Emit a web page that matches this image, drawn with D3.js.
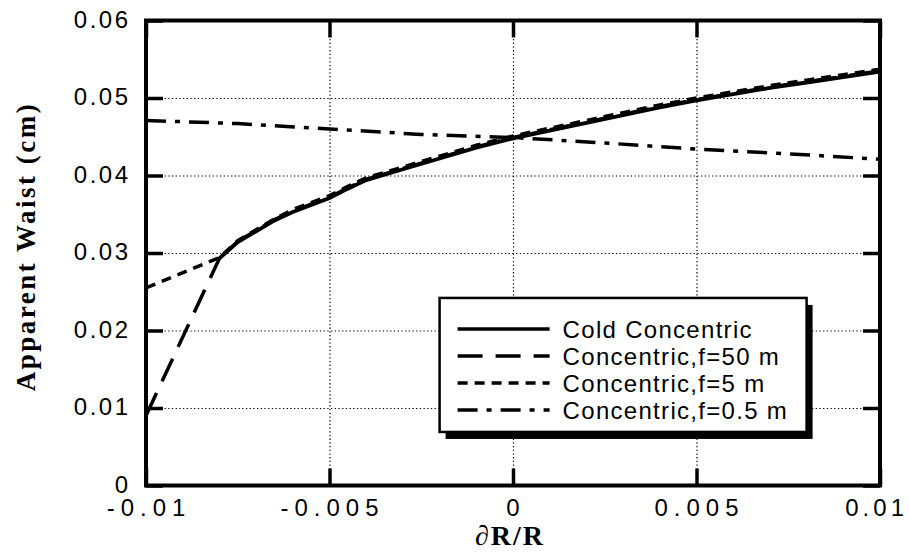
<!DOCTYPE html>
<html>
<head>
<meta charset="utf-8">
<script src="https://cdn.jsdelivr.net/npm/d3@7"></script>
<style>
  body { margin: 0; background: #fff; }
  svg { display: block; }
</style>
</head>
<body>
<div id="graph"></div>
<script>
// data
const xTicks = [-0.01, -0.005, 0, 0.005, 0.01];
const xTickLabels = ["-0.01", "-0.005", "0", "0.005", "0.01"];
const yTicks = [0, 0.01, 0.02, 0.03, 0.04, 0.05, 0.06];
const yTickLabels = ["0", "0.01", "0.02", "0.03", "0.04", "0.05", "0.06"];

const coldX = [-0.008, -0.0075, -0.007, -0.0065, -0.006, -0.0055, -0.005, -0.0045, -0.004, -0.003, -0.002, -0.001, 0, 0.001, 0.002, 0.003, 0.004, 0.005, 0.006, 0.007, 0.008, 0.009, 0.01];
const coldY = [0.0293, 0.0314, 0.0328, 0.0342, 0.0353, 0.0362, 0.0371, 0.0383, 0.0394, 0.0408, 0.0422, 0.0436, 0.0448, 0.0458, 0.0468, 0.0478, 0.0488, 0.0497, 0.0505, 0.0513, 0.0520, 0.0527, 0.0534];

const f50X = [-0.01, -0.008, -0.0075, -0.007, -0.0065, -0.006, -0.0055, -0.005, -0.0045, -0.004, -0.003, -0.002, -0.001, 0, 0.001, 0.002, 0.003, 0.004, 0.005, 0.006, 0.007, 0.008, 0.009, 0.01];
const f50Y = [0.0090, 0.0293, 0.0315, 0.0329, 0.0343, 0.0354, 0.0363, 0.0372, 0.0384, 0.0395, 0.0409, 0.0423, 0.0437, 0.0449, 0.0459, 0.0469, 0.0479, 0.0489, 0.0498, 0.0506, 0.0514, 0.0521, 0.0528, 0.0535];

const f5X = [-0.01, -0.008, -0.0075, -0.007, -0.0065, -0.006, -0.0055, -0.005, -0.0045, -0.004, -0.003, -0.002, -0.001, 0, 0.001, 0.002, 0.003, 0.004, 0.005, 0.006, 0.007, 0.008, 0.009, 0.01];
const f5Y = [0.0255, 0.0294, 0.0316, 0.0330, 0.0344, 0.0356, 0.0365, 0.0374, 0.0386, 0.0397, 0.0411, 0.0425, 0.0439, 0.0451, 0.0461, 0.0471, 0.0481, 0.0491, 0.0500, 0.0508, 0.0516, 0.0523, 0.0530, 0.0537];

const f05X = [-0.01, -0.0075, -0.005, -0.0025, 0, 0.0025, 0.005, 0.0075, 0.01];
const f05Y = [0.0471, 0.0467, 0.0460, 0.0453, 0.0449, 0.0442, 0.0434, 0.0428, 0.0421];

const seriesNames = ["Cold Concentric", "Concentric,f=50 m", "Concentric,f=5 m", "Concentric,f=0.5 m"];

const width = 909, height = 552;
const margin = {top: 20.5, right: 29, bottom: 66.5, left: 146};
const plotW = width - margin.left - margin.right;
const plotH = height - margin.top - margin.bottom;

let svg = d3.select("#graph")
    .append("svg")
    .attr("width", width)
    .attr("height", height)
    .append("g")
    .attr("transform", `translate(${margin.left}, ${margin.top})`);

let x = d3.scaleLinear().domain([-0.01, 0.01]).range([0, plotW]);
let y = d3.scaleLinear().domain([0, 0.06]).range([plotH, 0]);

// dotted grid
let gridY = svg.append("g")
    .call(d3.axisLeft(y).tickValues(yTicks.slice(1, -1)).tickSize(-plotW).tickFormat(""));
let gridX = svg.append("g")
    .call(d3.axisTop(x).tickValues(xTicks.slice(1, -1)).tickSize(-plotH).tickFormat(""));
[gridY, gridX].forEach(g => {
    g.select(".domain").remove();
    g.selectAll("line")
        .attr("stroke", "#000")
        .attr("stroke-width", 1.2)
        .attr("stroke-dasharray", "1.3,2.4");
});

// inside ticks on all four sides
let tickLen = 17;
let yAxis = svg.append("g")
    .call(d3.axisLeft(y).tickValues(yTicks).tickSize(-tickLen).tickPadding(18)
        .tickFormat((d, i) => yTickLabels[i]));
let yAxisR = svg.append("g")
    .attr("transform", `translate(${plotW}, 0)`)
    .call(d3.axisRight(y).tickValues(yTicks).tickSize(-tickLen).tickFormat(""));
let xAxis = svg.append("g")
    .attr("transform", `translate(0, ${plotH})`)
    .call(d3.axisBottom(x).tickValues(xTicks).tickSize(-tickLen).tickFormat(""));
let xAxisT = svg.append("g")
    .call(d3.axisTop(x).tickValues(xTicks).tickSize(-tickLen).tickFormat(""));

[yAxis, yAxisR, xAxis, xAxisT].forEach(a => {
    a.select(".domain").remove();
    a.selectAll(".tick line").attr("stroke", "#000").attr("stroke-width", 3.5);
});

yAxis.selectAll("text")
    .attr("fill", "#000")
    .attr("dy", "0.28em")
    .attr("x", -18 + 2.5)
    .style("font-family", "'Liberation Sans', Arial, sans-serif")
    .style("font-size", "24px")
    .style("letter-spacing", "2.5px");

// x tick labels: wide spacing between glyphs, kept centred on the tick
// (last one is pulled in so it ends where the reference's does)
let xLabels = svg.append("g")
    .selectAll("text")
    .data(xTicks)
    .enter()
    .append("text")
    .attr("x", (d, i) => i == xTicks.length - 1 ? plotW + 24 : x(d))
    .attr("y", plotH + 30.5)
    .style("text-anchor", (d, i) => i == xTicks.length - 1 ? "end" : "middle")
    .style("font-family", "'Liberation Sans', Arial, sans-serif")
    .style("font-size", "24px");
xLabels.selectAll("tspan")
    .data((d, i) => xTickLabels[i].split("").map(c => ({c: c, last: i == xTicks.length - 1})))
    .enter()
    .append("tspan")
    .attr("dx", (t, j) => j == 0 ? 0 : (t.last ? 4 : 6))
    .text(t => t.c);

// curves
let line = d3.line().x(d => x(d[0])).y(d => y(d[1]));
let series = [
    {name: seriesNames[0], pts: d3.zip(coldX, coldY), dash: null},
    {name: seriesNames[1], pts: d3.zip(f50X, f50Y), dash: "25,13"},
    {name: seriesNames[2], pts: d3.zip(f5X, f5Y), dash: "10,7"},
    {name: seriesNames[3], pts: d3.zip(f05X, f05Y), dash: "20,9,5,9"}
];

svg.selectAll(".curve")
    .data(series)
    .enter()
    .append("path")
    .attr("class", "curve")
    .attr("fill", "none")
    .attr("stroke", "#000")
    .attr("stroke-width", d => d.dash ? 3.5 : 3.8)
    .attr("stroke-dasharray", d => d.dash)
    .attr("d", d => line(d.pts));

// frame
svg.append("rect")
    .attr("x", 0).attr("y", 0)
    .attr("width", plotW).attr("height", plotH)
    .attr("fill", "none")
    .attr("stroke", "#000")
    .attr("stroke-width", 4);

// legend
let legend = svg.append("g")
    .attr("transform", `translate(${x(-0.002)}, ${y(0.0242)})`);
let legW = 367, legH = 134;
legend.append("rect")
    .attr("x", 6).attr("y", 7)
    .attr("width", legW).attr("height", legH)
    .attr("fill", "#000");
legend.append("rect")
    .attr("x", 0).attr("y", 0)
    .attr("width", legW).attr("height", legH)
    .attr("fill", "#fff")
    .attr("stroke", "#000")
    .attr("stroke-width", 2.5);

let rows = legend.selectAll(".row")
    .data(series)
    .enter()
    .append("g")
    .attr("transform", (d, i) => `translate(0, ${31 + i * 27})`);
rows.append("line")
    .attr("x1", 18).attr("x2", 110)
    .attr("stroke", "#000")
    .attr("stroke-width", 3.5)
    .attr("stroke-dasharray", d => d.dash);
rows.append("text")
    .attr("x", 123)
    .attr("y", 9)
    .style("font-family", "'Liberation Sans', Arial, sans-serif")
    .style("font-size", "24px")
    .style("letter-spacing", "1.3px")
    .text(d => d.name);

// axis titles
svg.append("text")
    .attr("transform", `translate(${plotW / 2 - 3}, ${plotH + 59})`)
    .style("text-anchor", "middle")
    .style("font-family", "'Liberation Serif', 'Times New Roman', serif")
    .style("font-weight", "bold")
    .style("font-size", "28px")
    .style("letter-spacing", "2px")
    .text("∂R/R");

svg.append("text")
    .attr("transform", `translate(${35 - margin.left}, ${226}) rotate(-90)`)
    .style("text-anchor", "middle")
    .style("font-family", "'Liberation Serif', 'Times New Roman', serif")
    .style("font-weight", "bold")
    .style("font-size", "27px")
    .style("letter-spacing", "2.5px")
    .text("Apparent Waist (cm)");
</script>
</body>
</html>
